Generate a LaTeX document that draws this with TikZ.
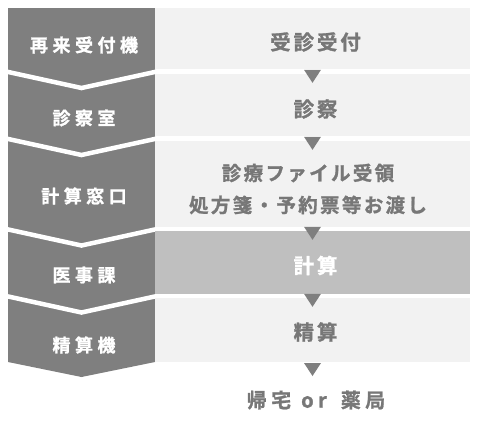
\documentclass[tikz,border=0pt]{standalone}
\usepackage{fontspec}
\usepackage{tikz}
\usetikzlibrary{calc, positioning}
\newfontfamily\jpleft{Noto Sans CJK JP}[BoldFont={Noto Sans CJK JP Bold}, BoldFeatures={FakeBold=1.2}, LetterSpace=25]
\newfontfamily\jpright{Noto Sans CJK JP}[BoldFont={Noto Sans CJK JP Bold}, BoldFeatures={FakeBold=1.2}, LetterSpace=14]
\newfontfamily\jptwo{Noto Sans CJK JP}[BoldFont={Noto Sans CJK JP Bold}, BoldFeatures={FakeBold=1.2}, LetterSpace=12]
\newfontfamily\jpend{Noto Sans CJK JP}[BoldFont={Noto Sans CJK JP Bold}, BoldFeatures={FakeBold=1.2}, LetterSpace=22]
\definecolor{darkcol}{HTML}{7F7F7F}
\definecolor{lightcol}{HTML}{F2F2F2}
\definecolor{midcol}{HTML}{BFBFBF}
\definecolor{textcol}{HTML}{777777}
\tikzset{
	stagebox/.style={fill=lightcol, draw=none, inner sep=0pt, minimum width=315pt},
	leftlabel/.style={text=white, font=\jpleft\bfseries\fontsize{18}{20}\selectfont, inner sep=0pt},
	rightlabel/.style={text=textcol, font=\jpright\bfseries\fontsize{20.5}{22}\selectfont, inner sep=0pt, align=center},
	twolabel/.style={rightlabel, font=\jptwo\bfseries\fontsize{19.5}{32}\selectfont},
	endlabel/.style={rightlabel, font=\jpend\bfseries\fontsize{20}{22}\selectfont},
	sepline/.style={white, line width=4.5pt, line join=miter}
}
\def\marker(#1)% Syntax: (top of the box below)
{ \fill[darkcol] ($(#1)+(-8.5,-4)$) -- ($(#1)+(8.5,-4)$) -- ($(#1)+(0,9)$) -- cycle; }
\def\sep(#1)% Syntax: (y of the gap)
{ \draw[sepline] (6,#1) -- (81.5,#1+16.5) -- (157,#1); }

\begin{document}
\begin{tikzpicture}[x=1pt, y=-1pt]
		\useasboundingbox (0,0) rectangle (481,426);
		
		%left column
		\fill[darkcol] (8,8) -- (155,8) -- (155,362) -- (81.5,377) -- (8,362) -- cycle;
		\sep(71.5);
		\sep(138.5);
		\sep(229);
		\sep(296);
		
		%boxes
		\node[stagebox, minimum height=61pt] (box1) at (312.5,38.5) {};
		\node[stagebox, minimum height=62pt] (box2) at (312.5,105) {};
		\node[stagebox, minimum height=86pt] (box3) at (312.5,184) {};
		\node[stagebox, fill=midcol, minimum height=63pt] (box4) at (312.5,262.5) {};
		\node[stagebox, minimum height=64pt] (box5) at (312.5,330) {};
		\coordinate (endtop) at (312.5,367);
		
		%markers
		\marker(box2.north);
		\marker(box3.north);
		\marker(box4.north);
		\marker(box5.north);
		\marker(endtop);
		
		%labels left
		\node[leftlabel] (l1) at (84,45) {再来受付機};
		\node[leftlabel] (l2) at (84,118) {診察室};
		\node[leftlabel] (l3) at (84,196) {計算窓口};
		\node[leftlabel] (l4) at (84,275) {医事課};
		\node[leftlabel] (l5) at (84,345) {精算機};
		
		%labels right
		\node[rightlabel] (r1) at (315.5,42) {受診受付};
		\node[rightlabel] (r2) at (315.5,109) {診察};
		\node[twolabel] (r3) at (308,189) {診療ファイル受領\\処方箋・予約票等お渡し};
		\node[rightlabel, text=white] (r4) at (315.5,265.5) {計算};
		\node[rightlabel] (r5) at (315.5,332) {精算};
		\node[endlabel] (end) at (316,400) {帰宅\hspace{10pt}or\hspace{14pt}薬局};
\end{tikzpicture}
\end{document}
